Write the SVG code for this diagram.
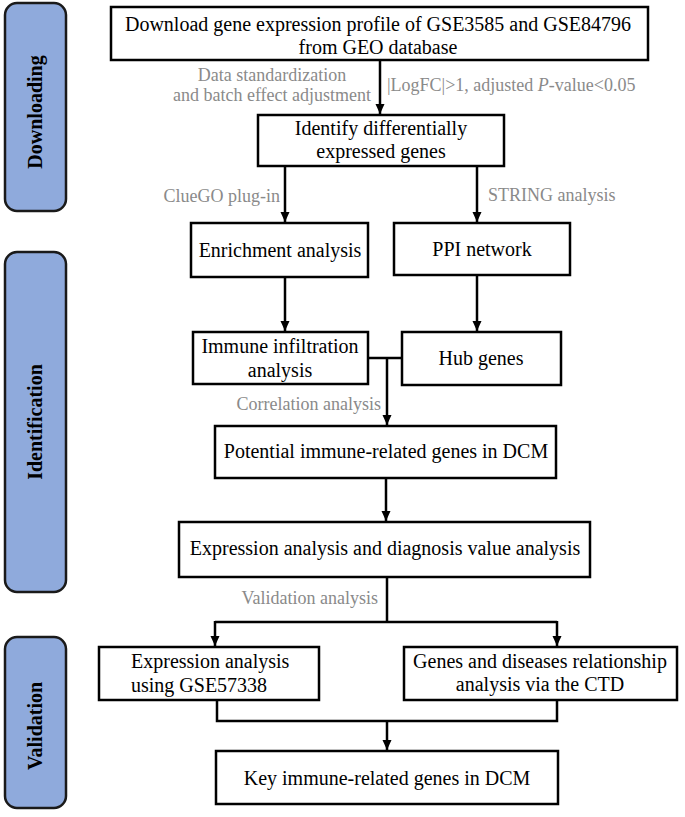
<svg xmlns="http://www.w3.org/2000/svg" width="685" height="817" viewBox="0 0 685 817">
<defs>
<marker id="ah" viewBox="0 0 10 10" refX="10" refY="5" markerWidth="10" markerHeight="10" markerUnits="userSpaceOnUse" orient="auto">
<path d="M0,0.5 L10,5 L0,9.5 z" fill="#000"/>
</marker>
<style>
.box{fill:#fff;stroke:#000;stroke-width:2.5}
.side{fill:#8faadc;stroke:#1a1a1a;stroke-width:2.5}
.t{font-family:"Liberation Serif","Times New Roman",serif;font-size:20px;fill:#000;text-anchor:middle}
.tl{font-family:"Liberation Serif","Times New Roman",serif;font-size:20px;fill:#000;text-anchor:start}
.g{font-family:"Liberation Serif","Times New Roman",serif;font-size:18px;fill:#8a8a8a}
.s{font-family:"Liberation Serif","Times New Roman",serif;font-size:20px;font-weight:bold;fill:#000;text-anchor:middle}
.c{fill:none;stroke:#000;stroke-width:2.5}
</style>
</defs>
<rect width="685" height="817" fill="#fff"/>
<g id="side-downloading"><rect class="side" x="5" y="3" width="61" height="208" rx="12"/><text class="s" transform="translate(42,112) rotate(-90)">Downloading</text></g>
<g id="side-identification"><rect class="side" x="5" y="252" width="61" height="340" rx="12"/><text class="s" transform="translate(42,422) rotate(-90)">Identification</text></g>
<g id="side-validation"><rect class="side" x="5" y="637" width="61" height="171" rx="12"/><text class="s" transform="translate(42,726) rotate(-90)">Validation</text></g>

<g id="connectors">
<path class="c" d="M380,60 V114" marker-end="url(#ah)"/>
<path class="c" d="M285,166 V222" marker-end="url(#ah)"/>
<path class="c" d="M477,166 V222" marker-end="url(#ah)"/>
<path class="c" d="M285,277 V331" marker-end="url(#ah)"/>
<path class="c" d="M477,275 V331" marker-end="url(#ah)"/>
<path class="c" d="M368,358 H402"/>
<path class="c" d="M387,358 V425" marker-end="url(#ah)"/>
<path class="c" d="M386,478 V521" marker-end="url(#ah)"/>
<path class="c" d="M387,577 V622 M215,622 H557"/>
<path class="c" d="M215,621 V646" marker-end="url(#ah)"/>
<path class="c" d="M557,621 V646" marker-end="url(#ah)"/>
<path class="c" d="M217,700 V721 H557 V700"/>
<path class="c" d="M387,721 V750" marker-end="url(#ah)"/>
<text class="g" x="272" y="81" text-anchor="middle">Data standardization</text>
<text class="g" x="272" y="101" text-anchor="middle">and batch effect adjustment</text>
<text class="g" x="387" y="91">|LogFC|&gt;1, adjusted <tspan font-style="italic">P</tspan>-value&lt;0.05</text>
<text class="g" x="280" y="202" text-anchor="end">ClueGO plug-in</text>
<text class="g" x="488" y="201">STRING analysis</text>
<text class="g" x="381" y="410" text-anchor="end">Correlation analysis</text>
<text class="g" x="378" y="604" text-anchor="end">Validation analysis</text>
</g>

<g id="n-download"><rect class="box" x="111" y="7" width="537" height="53"/><text class="t" x="378" y="31">Download gene expression profile of GSE3585 and GSE84796</text><text class="t" x="378" y="54">from GEO database</text></g>
<g id="n-deg"><rect class="box" x="258" y="115" width="246" height="51"/><text class="t" x="381" y="135">Identify differentially</text><text class="t" x="381" y="158">expressed genes</text></g>
<g id="n-enrich"><rect class="box" x="191" y="223" width="177" height="54"/><text class="t" x="280" y="257">Enrichment analysis</text></g>
<g id="n-ppi"><rect class="box" x="394" y="223" width="176" height="52"/><text class="t" x="482" y="256">PPI network</text></g>
<g id="n-immune"><rect class="box" x="193" y="332" width="175" height="52"/><text class="t" x="280" y="353">Immune infiltration</text><text class="t" x="280" y="377">analysis</text></g>
<g id="n-hub"><rect class="box" x="402" y="332" width="159" height="53"/><text class="t" x="481" y="365">Hub genes</text></g>
<g id="n-potential"><rect class="box" x="215" y="426" width="341" height="52"/><text class="t" x="386" y="458">Potential immune-related genes in DCM</text></g>
<g id="n-expr"><rect class="box" x="179" y="522" width="411" height="55"/><text class="t" x="385" y="555">Expression analysis and diagnosis value analysis</text></g>
<g id="n-gse"><rect class="box" x="99" y="647" width="220" height="53"/><text class="tl" x="131" y="668">Expression analysis</text><text class="tl" x="131" y="692">using GSE57338</text></g>
<g id="n-ctd"><rect class="box" x="404" y="647" width="273" height="53"/><text class="t" x="540" y="668">Genes and diseases relationship</text><text class="t" x="540" y="691">analysis via the CTD</text></g>
<g id="n-key"><rect class="box" x="216" y="751" width="342" height="53"/><text class="t" x="387" y="785">Key immune-related genes in DCM</text></g>
</svg>
